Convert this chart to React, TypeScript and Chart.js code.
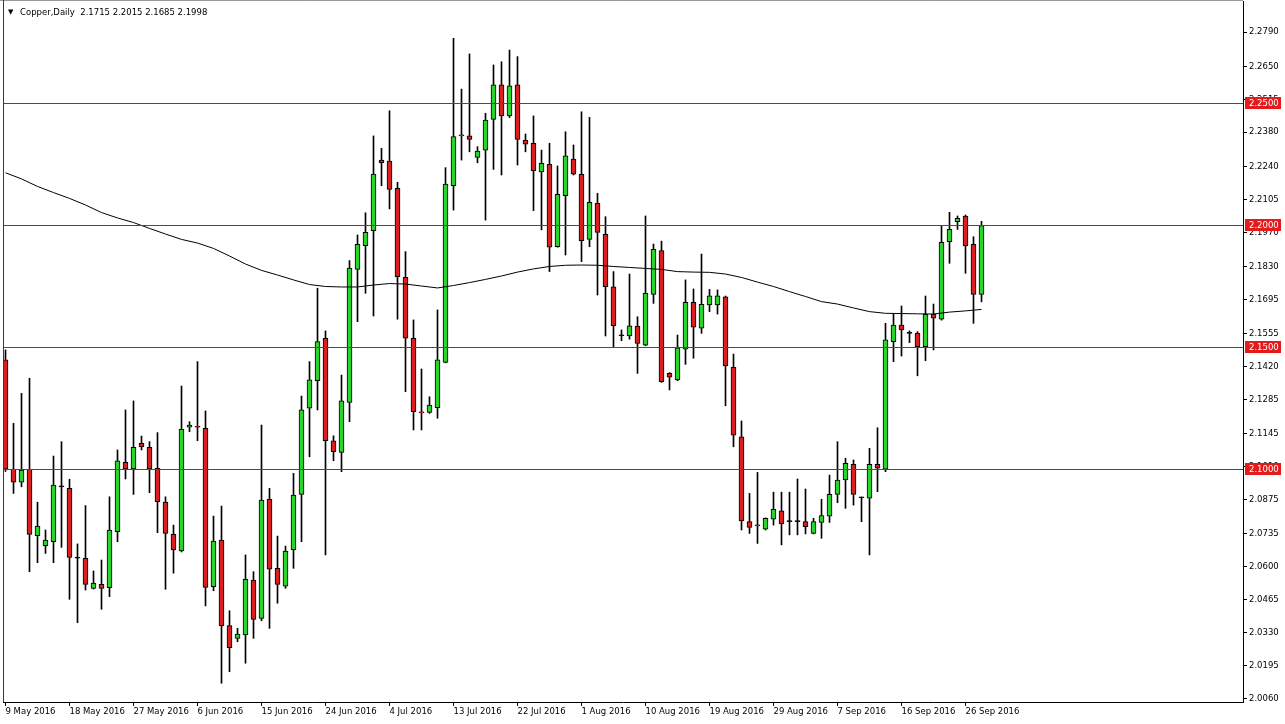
import React, { useEffect, useRef } from 'react';
import { Chart, registerables } from 'chart.js';

Chart.register(...registerables);

// ---- header ----
const symbolName = 'Copper,Daily';
const lastOHLC = [2.1715, 2.2015, 2.1685, 2.1998];

// ---- x axis (bar index -> date label) ----
const dateIndex = [0, 8, 16, 24, 32, 40, 48, 56, 64, 72, 80, 88, 96, 104, 112, 120];
const dateLabels = [
  '9 May 2016', '18 May 2016', '27 May 2016', '6 Jun 2016', '15 Jun 2016', '24 Jun 2016',
  '4 Jul 2016', '13 Jul 2016', '22 Jul 2016', '1 Aug 2016', '10 Aug 2016', '19 Aug 2016',
  '29 Aug 2016', '7 Sep 2016', '16 Sep 2016', '26 Sep 2016',
];

// ---- price axis ----
const priceTicks = [
  2.279, 2.265, 2.2515, 2.238, 2.224, 2.2105, 2.197, 2.183, 2.1695, 2.1555, 2.142,
  2.1285, 2.1145, 2.101, 2.0875, 2.0735, 2.06, 2.0465, 2.033, 2.0195, 2.006,
];
const levels = [2.25, 2.2, 2.15, 2.1];

// ---- candles ----
const opens = [
  2.1447, 2.0999, 2.0946, 2.0999, 2.0727, 2.0686, 2.0702, 2.0927, 2.0921, 2.0635,
  2.0634, 2.0511, 2.0527, 2.0514, 2.0743, 2.1027, 2.1000, 2.1105, 2.1089, 2.1003,
  2.0864, 2.0732, 2.0664, 2.1171, 2.1175, 2.1167, 2.0518, 2.0709, 2.0358, 2.0306,
  2.0320, 2.0545, 2.0388, 2.0876, 2.0593, 2.0520, 2.0668, 2.0896, 2.1249, 2.1362,
  2.1536, 2.1115, 2.1068, 2.1273, 2.1818, 2.1915, 2.1977, 2.2266, 2.2262, 2.2150,
  2.1786, 2.1536, 2.1233, 2.1232, 2.1251, 2.1437, 2.2161, 2.2368, 2.2365, 2.2277,
  2.2307, 2.2433, 2.2574, 2.2447, 2.2574, 2.2348, 2.2335, 2.2218, 2.2249, 2.1911,
  2.2120, 2.2270, 2.2208, 2.1941, 2.2089, 2.1962, 2.1747, 2.1546, 2.1545, 2.1586,
  2.1508, 2.1716, 2.1895, 2.1392, 2.1365, 2.1491, 2.1683, 2.1577, 2.1672, 2.1672,
  2.1706, 2.1417, 2.1132, 2.0784, 2.0770, 2.0753, 2.0794, 2.0829, 2.0784, 2.0784,
  2.0784, 2.0736, 2.0781, 2.0807, 2.0896, 2.0955, 2.1019, 2.0882, 2.0880, 2.1019,
  2.0999, 2.1522, 2.1590, 2.1556, 2.1556, 2.1501, 2.1635, 2.1614, 2.1932, 2.2014,
  2.2037, 2.1921, 2.1715,
];
const highs = [
  2.1488, 2.1187, 2.1310, 2.1372, 2.0864, 2.0750, 2.1053, 2.1112, 2.0958, 2.0693,
  2.0850, 2.0582, 2.0627, 2.0886, 2.1078, 2.1242, 2.1279, 2.1135, 2.1112, 2.1149,
  2.0886, 2.0770, 2.1340, 2.1194, 2.1440, 2.1238, 2.0807, 2.0848, 2.0419, 2.0347,
  2.0648, 2.0579, 2.1180, 2.0921, 2.0725, 2.0684, 2.0982, 2.1299, 2.1440, 2.1741,
  2.1566, 2.1136, 2.1385, 2.1854, 2.1959, 2.2050, 2.2365, 2.2314, 2.2468, 2.2175,
  2.1891, 2.1611, 2.1410, 2.1296, 2.1652, 2.2235, 2.2765, 2.2557, 2.2701, 2.2321,
  2.2458, 2.2656, 2.2669, 2.2717, 2.2690, 2.2373, 2.2447, 2.2307, 2.2335, 2.2242,
  2.2382, 2.2328, 2.2464, 2.2441, 2.2130, 2.2034, 2.1809, 2.1570, 2.1799, 2.1624,
  2.2037, 2.1922, 2.1934, 2.1395, 2.1549, 2.1775, 2.1738, 2.1881, 2.1736, 2.1734,
  2.1709, 2.1471, 2.1197, 2.0900, 2.0986, 2.0800, 2.0905, 2.0905, 2.0905, 2.0959,
  2.0918, 2.0798, 2.0876, 2.0975, 2.1112, 2.1044, 2.1037, 2.0885, 2.1085, 2.1169,
  2.1597, 2.1635, 2.1668, 2.1566, 2.1563, 2.1709, 2.1676, 2.1996, 2.2052, 2.2037,
  2.2041, 2.1952, 2.2015,
];
const lows = [
  2.0990, 2.0900, 2.0927, 2.0579, 2.0616, 2.0654, 2.0616, 2.0679, 2.0466, 2.0370,
  2.0504, 2.0508, 2.0425, 2.0477, 2.0702, 2.0959, 2.0896, 2.1078, 2.0903, 2.0739,
  2.0507, 2.0573, 2.0660, 2.1153, 2.1116, 2.0439, 2.0501, 2.0122, 2.0169, 2.0292,
  2.0204, 2.0306, 2.0378, 2.0347, 2.0450, 2.0511, 2.0593, 2.0702, 2.1050, 2.1242,
  2.0648, 2.1034, 2.0989, 2.1194, 2.1604, 2.1720, 2.1627, 2.2161, 2.2066, 2.1614,
  2.1317, 2.1160, 2.1160, 2.1228, 2.1208, 2.1435, 2.2061, 2.2266, 2.2300, 2.2255,
  2.2020, 2.2228, 2.2205, 2.2440, 2.2246, 2.2300, 2.2059, 2.1980, 2.1809, 2.1909,
  2.1877, 2.2205, 2.1850, 2.1911, 2.1713, 2.1545, 2.1501, 2.1526, 2.1532, 2.1392,
  2.1505, 2.1679, 2.1355, 2.1324, 2.1362, 2.1429, 2.1454, 2.1556, 2.1645, 2.1635,
  2.1259, 2.1091, 2.0750, 2.0736, 2.0695, 2.0750, 2.0770, 2.0689, 2.0730, 2.0730,
  2.0734, 2.0734, 2.0716, 2.0781, 2.0862, 2.0839, 2.0852, 2.0784, 2.0648, 2.0907,
  2.0989, 2.1440, 2.1463, 2.1518, 2.1382, 2.1444, 2.1488, 2.1610, 2.1843, 2.1982,
  2.1802, 2.1597, 2.1685,
];
const closes = [
  2.0999, 2.0946, 2.0996, 2.0732, 2.0766, 2.0709, 2.0934, 2.0927, 2.0638, 2.0635,
  2.0527, 2.0532, 2.0511, 2.0750, 2.1033, 2.1000, 2.1089, 2.1091, 2.1000, 2.0866,
  2.0736, 2.0668, 2.1163, 2.1180, 2.1171, 2.0515, 2.0705, 2.0358, 2.0268, 2.0323,
  2.0548, 2.0384, 2.0873, 2.0589, 2.0527, 2.0664, 2.0893, 2.1242, 2.1365, 2.1522,
  2.1116, 2.1071, 2.1279, 2.1823, 2.1921, 2.1970, 2.2209, 2.2255, 2.2146, 2.1788,
  2.1536, 2.1235, 2.1230, 2.1262, 2.1447, 2.2168, 2.2362, 2.2365, 2.2351, 2.2303,
  2.2430, 2.2574, 2.2447, 2.2570, 2.2351, 2.2331, 2.2223, 2.2253, 2.1909, 2.2126,
  2.2283, 2.2208, 2.1936, 2.2093, 2.1970, 2.1747, 2.1587, 2.1546, 2.1587, 2.1515,
  2.1720, 2.1900, 2.1358, 2.1376, 2.1497, 2.1683, 2.1581, 2.1675, 2.1710, 2.1710,
  2.1422, 2.1139, 2.0787, 2.0761, 2.0767, 2.0798, 2.0835, 2.0775, 2.0784, 2.0784,
  2.0764, 2.0784, 2.0809, 2.0896, 2.0955, 2.1023, 2.0896, 2.0882, 2.1019, 2.1003,
  2.1529, 2.1590, 2.1570, 2.1556, 2.1501, 2.1634, 2.1618, 2.1929, 2.1982, 2.2027,
  2.1914, 2.1716, 2.1998,
];

// ---- moving average (read at sampled bars) ----
const maIndex = [
  0, 2, 4, 6, 8, 10, 12, 14, 16, 18, 20, 22, 24, 26, 28, 30, 32, 34, 36, 38, 40, 42, 44,
  46, 48, 50, 52, 54, 56, 58, 60, 62, 64, 66, 68, 70, 72, 74, 76, 78, 80, 82, 84, 86, 88,
  90, 92, 94, 96, 98, 100, 102, 104, 106, 108, 110, 112, 114, 116, 118, 120, 122,
];
const maValues = [
  2.2214, 2.2189, 2.2158, 2.2133, 2.2109, 2.2082, 2.2051, 2.2029, 2.2010, 2.1986, 2.1963,
  2.1941, 2.1926, 2.1904, 2.1873, 2.1840, 2.1814, 2.1795, 2.1775, 2.1756, 2.1748, 2.1746,
  2.1746, 2.1754, 2.1760, 2.1758, 2.1750, 2.1742, 2.1752, 2.1764, 2.1777, 2.1791, 2.1807,
  2.1820, 2.1830, 2.1835, 2.1836, 2.1835, 2.1830, 2.1826, 2.1822, 2.1818, 2.1809, 2.1807,
  2.1806, 2.1799, 2.1785, 2.1766, 2.1748, 2.1727, 2.1707, 2.1686, 2.1676, 2.1660, 2.1645,
  2.1638, 2.1637, 2.1636, 2.1635, 2.1643, 2.1648, 2.1654,
];

const BULL = '#2ad42a';
const BEAR = '#dc1e1e';
const LEVEL = '#ff0000';
const FONT = "'DejaVu Sans', sans-serif";
const FONT_SIZE = 8.5;

const Y_MAX = 2.2 + 224 / 2440;
const Y_MIN = Y_MAX - 701 / 2440;
const X_MIN = -0.3125;
const X_MAX = 154.6875;

const overlayPlugin = {
  id: 'mt4overlay',
  afterDatasetsDraw(chart: any) {
    const { ctx, chartArea } = chart;
    const ys = chart.scales.y;
    ctx.save();
    ctx.globalAlpha = 1;
    ctx.setLineDash([]);
    ctx.strokeStyle = LEVEL;
    ctx.lineWidth = 1;
    levels.forEach((v) => {
      const y = Math.round(ys.getPixelForValue(v)) + 0.5;
      ctx.beginPath();
      ctx.moveTo(chartArea.left, y);
      ctx.lineTo(chartArea.right, y);
      ctx.stroke();
    });
    ctx.restore();
  },
  afterDraw(chart: any) {
    const { ctx, chartArea } = chart;
    const ys = chart.scales.y;
    ctx.save();
    // level labels on the price axis
    ctx.font = `${FONT_SIZE}px ${FONT}`;
    ctx.textBaseline = 'middle';
    ctx.textAlign = 'left';
    levels.forEach((v) => {
      const y = Math.round(ys.getPixelForValue(v));
      ctx.fillStyle = '#e51a1a';
      ctx.fillRect(chartArea.right + 2, y - 6, 36, 12);
      ctx.fillStyle = '#ffffff';
      ctx.fillText(v.toFixed(4), chartArea.right + 6, y + 0.5);
    });
    // frame
    ctx.strokeStyle = '#9a9a9a';
    ctx.lineWidth = 1;
    ctx.beginPath();
    ctx.moveTo(0, 0.5);
    ctx.lineTo(chartArea.right, 0.5);
    ctx.stroke();
    ctx.strokeStyle = '#3a3a3a';
    ctx.beginPath();
    ctx.moveTo(chartArea.left + 0.5, 0);
    ctx.lineTo(chartArea.left + 0.5, chartArea.bottom);
    ctx.stroke();
    // header
    ctx.fillStyle = '#000';
    ctx.font = `7px ${FONT}`;
    ctx.fillText('\u25BC', 8, 12.5);
    ctx.font = `${FONT_SIZE}px ${FONT}`;
    ctx.fillText(`${symbolName}  ${lastOHLC.map((v) => v.toFixed(4)).join(' ')}`, 20, 13);
    ctx.restore();
  },
};

export default function App() {
  const ref = useRef<HTMLCanvasElement>(null);

  useEffect(() => {
    const canvas = ref.current;
    if (!canvas) return;
    const bodyColors = opens.map((o, i) => (closes[i] > o ? BULL : closes[i] < o ? BEAR : '#000'));
    const chart = new Chart(canvas, {
      type: 'bar',
      data: {
        datasets: [
          {
            type: 'line',
            label: 'MA',
            data: maIndex.map((x, k) => ({ x, y: maValues[k] })),
            borderColor: '#000',
            borderWidth: 1,
            pointRadius: 0,
            tension: 0,
            order: 1,
          } as any,
          {
            type: 'bar',
            label: 'body',
            data: opens.map((o, i) => ({ x: i, y: [o, closes[i]] })),
            backgroundColor: bodyColors,
            borderColor: '#000',
            borderWidth: 1,
            borderSkipped: false,
            barThickness: 5,
            minBarLength: 1,
            grouped: false,
            order: 2,
          } as any,
          {
            type: 'bar',
            label: 'wick',
            data: lows.map((l, i) => ({ x: i, y: [l, highs[i]] })),
            backgroundColor: '#000',
            borderWidth: 0,
            barThickness: 1,
            minBarLength: 1,
            grouped: false,
            order: 3,
          } as any,
        ],
      },
      options: {
        responsive: false,
        animation: false,
        devicePixelRatio: 1,
        layout: { padding: { left: 3, top: 1, right: 0, bottom: 0 } },
        plugins: {
          legend: { display: false },
          tooltip: { enabled: false },
          title: { display: false },
        },
        scales: {
          x: {
            type: 'linear',
            min: X_MIN,
            max: X_MAX,
            offset: false,
            grid: { display: true, drawOnChartArea: false, drawTicks: true, tickLength: 4, color: '#000', offset: false },
            border: { display: true, color: '#000', width: 1 },
            ticks: {
              autoSkip: false,
              maxRotation: 0,
              minRotation: 0,
              align: 'start',
              padding: 1,
              color: '#000',
              font: { family: FONT, size: FONT_SIZE },
              callback: (v: any) => {
                const k = dateIndex.indexOf(Number(v));
                return k >= 0 ? dateLabels[k] : '';
              },
            },
            afterBuildTicks: (s: any) => {
              s.ticks = dateIndex.map((v) => ({ value: v }));
            },
            afterFit: (s: any) => {
              s.height = 22;
              s.paddingLeft = 0;
              s.paddingRight = 0;
              s.paddingTop = 0;
              s.paddingBottom = 0;
            },
          },
          y: {
            type: 'linear',
            position: 'right',
            min: Y_MIN,
            max: Y_MAX,
            grid: { display: true, drawOnChartArea: false, drawTicks: true, tickLength: 4, color: '#000' },
            border: { display: true, color: '#000', width: 1 },
            ticks: {
              autoSkip: false,
              padding: 2,
              color: '#000',
              font: { family: FONT, size: FONT_SIZE },
              callback: (v: any) => Number(v).toFixed(4),
            },
            afterBuildTicks: (s: any) => {
              s.ticks = priceTicks.map((v) => ({ value: v }));
            },
            afterFit: (s: any) => {
              s.width = 42;
              s.paddingLeft = 0;
              s.paddingRight = 0;
              s.paddingTop = 0;
              s.paddingBottom = 0;
            },
          },
        },
      } as any,
      plugins: [overlayPlugin],
    });
    return () => chart.destroy();
  }, []);

  return (
    <div style={{ position: 'fixed', left: 0, top: 0, width: 1285, height: 724, background: '#fff' }}>
      <canvas ref={ref} width={1285} height={724} style={{ display: 'block' }} />
    </div>
  );
}
